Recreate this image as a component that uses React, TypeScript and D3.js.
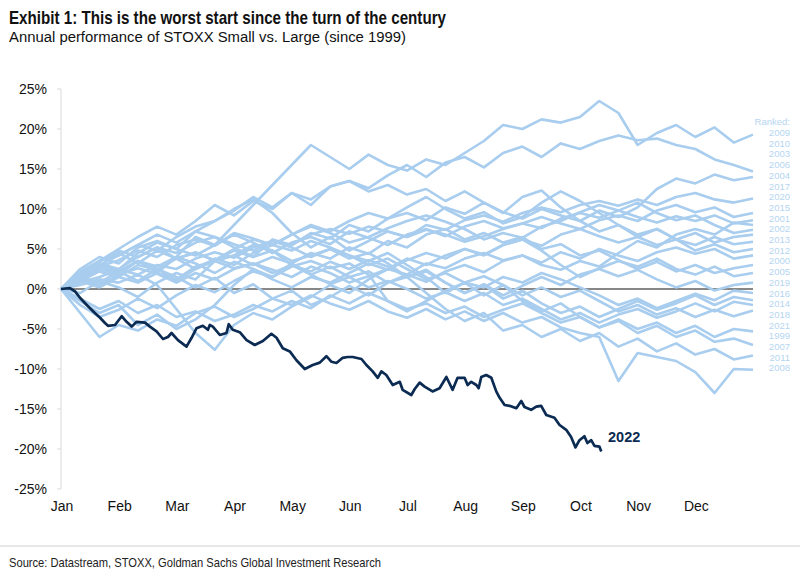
import React from "react";
import * as d3 from "d3";

const MONTHS = ["Jan", "Feb", "Mar", "Apr", "May", "Jun", "Jul", "Aug", "Sep", "Oct", "Nov", "Dec"];
const Y_TICKS = [25, 20, 15, 10, 5, 0, -5, -10, -15, -20, -25];
const RANKED = ["2009", "2010", "2003", "2006", "2004", "2017", "2020", "2015", "2001", "2002", "2013", "2012", "2000", "2005", "2019", "2016", "2014", "2018", "2021", "1999", "2007", "2011", "2008"];

// Light series: values every 1/3 month (37 points, Jan 1 -> Dec 31), % relative performance
const S2009 = [0, 1.2, 2.5, 1.8, 3.5, 2.0, 4.0, 6.5, 5.5, 8.0, 10.5, 13.0, 15.5, 18.0, 16.5, 15.0, 16.8, 15.5, 14.8, 16.2, 15.5, 17.0, 18.5, 20.5, 20.0, 21.2, 20.8, 21.5, 23.5, 22.0, 18.0, 19.5, 20.5, 19.0, 20.2, 18.3, 19.3];
const S2010 = [0, 1.5, 3.2, 2.4, 4.5, 5.8, 5.0, 7.2, 8.5, 9.8, 11.5, 10.2, 12.0, 10.5, 12.8, 13.5, 12.6, 14.2, 15.5, 14.0, 15.8, 16.5, 15.2, 17.0, 17.8, 16.5, 18.2, 17.5, 18.5, 19.2, 18.6, 18.8, 18.0, 17.5, 16.2, 15.5, 14.7];
const S2003 = [0, -0.5, 1.0, 0.2, -1.0, 0.8, 2.0, 1.2, 3.5, 4.8, 4.0, 6.2, 5.5, 7.0, 6.3, 8.0, 7.2, 8.8, 9.5, 8.6, 10.2, 9.4, 10.8, 9.6, 8.8, 10.0, 9.2, 8.5, 9.8, 9.0, 10.2, 12.5, 13.8, 13.2, 14.3, 13.6, 14.0];
const S2006 = [0, 1.8, 3.5, 4.2, 5.5, 4.8, 6.5, 7.8, 8.5, 10.0, 11.2, 9.5, 7.0, 5.2, 6.5, 4.8, 6.0, 7.2, 6.5, 8.0, 7.4, 8.6, 9.2, 8.4, 9.5, 10.2, 9.6, 10.5, 11.0, 10.4, 11.2, 10.5, 11.5, 12.0, 11.2, 10.8, 11.3];
const S2004 = [0, 2.5, 4.0, 3.2, 5.2, 6.0, 5.0, 4.2, 5.5, 6.8, 5.8, 4.5, 5.8, 6.5, 5.6, 7.2, 6.4, 5.5, 6.8, 7.5, 6.6, 7.8, 8.5, 7.6, 8.2, 9.0, 8.2, 7.5, 8.6, 9.2, 8.5, 9.8, 10.5, 9.6, 10.2, 9.0, 9.5];
const S2017 = [0, 0.8, 1.5, 2.4, 1.8, 3.0, 2.5, 3.8, 4.6, 3.9, 5.2, 6.0, 5.5, 6.8, 7.5, 6.9, 7.8, 7.2, 6.5, 7.4, 6.8, 5.9, 6.6, 7.5, 8.2, 7.6, 8.8, 9.5, 8.9, 9.8, 9.0, 8.3, 9.1, 8.5, 9.2, 8.2, 8.6];
const S2020 = [0, 0.5, 1.2, 0.8, 1.8, 0.5, -2.5, -5.5, -7.6, -4.5, -3.0, -3.8, -2.2, -1.0, 0.5, -0.5, 1.2, 2.5, 1.8, 3.2, 2.6, 3.8, 4.5, 3.6, 4.2, 3.0, 2.4, 3.5, 2.8, 4.5, 6.0, 5.2, 6.8, 7.5, 6.8, 8.3, 8.0];
const S2015 = [0, 1.5, 2.8, 3.6, 4.8, 4.0, 5.5, 6.2, 5.4, 7.0, 6.3, 5.5, 6.8, 7.8, 7.0, 5.8, 6.5, 7.6, 8.5, 9.2, 8.4, 7.5, 6.2, 7.0, 6.4, 7.8, 8.5, 9.6, 10.5, 9.8, 10.8, 9.5, 8.6, 9.2, 8.0, 7.0, 7.4];
const S2001 = [0, 2.2, 3.5, 5.0, 6.5, 7.8, 6.8, 8.5, 10.5, 9.2, 11.0, 10.0, 12.0, 11.2, 12.8, 13.5, 12.2, 13.0, 11.8, 12.5, 11.0, 12.2, 10.8, 9.5, 11.5, 12.3, 10.2, 8.5, 7.2, 8.0, 6.5, 7.5, 6.2, 7.0, 5.8, 6.5, 6.8];
const S2002 = [0, 1.0, 2.2, 1.5, 3.0, 2.4, 3.8, 4.5, 3.6, 5.0, 6.2, 5.5, 6.8, 8.0, 7.2, 8.5, 9.5, 8.8, 10.2, 11.5, 10.0, 8.8, 9.6, 8.2, 9.0, 10.8, 12.2, 11.0, 9.5, 8.0, 6.8, 7.5, 6.2, 5.5, 6.5, 5.6, 5.9];
const S2013 = [0, 1.2, 0.5, 1.8, 2.6, 1.9, 0.8, 2.0, 1.2, 2.5, 3.2, 2.4, 1.5, 2.8, 2.0, 0.8, 1.6, 2.5, 3.8, 3.0, 4.2, 5.0, 4.3, 5.5, 6.2, 5.4, 6.8, 7.5, 6.6, 5.8, 6.5, 5.5, 6.2, 4.8, 5.6, 4.6, 5.0];
const S2012 = [0, 1.8, 3.0, 2.2, 1.0, 2.5, 1.5, 0.2, 1.4, -0.5, 0.6, -1.2, -0.2, -2.0, -1.0, 0.4, -0.8, 0.8, 1.8, 0.9, 2.2, 3.0, 2.1, 3.5, 4.2, 3.3, 4.6, 3.8, 5.0, 4.2, 3.5, 4.6, 5.2, 4.4, 5.0, 3.8, 4.2];
const S2000 = [0, -1.5, -3.0, -2.0, -4.5, -3.2, -5.0, -3.8, -2.0, 0.5, 2.5, 1.5, 3.2, 4.5, 3.8, 5.2, 4.4, 6.0, 5.2, 6.8, 7.5, 6.2, 7.0, 5.8, 6.5, 5.0, 5.6, 4.2, 4.8, 3.6, 2.5, 3.4, 2.2, 3.0, 2.0, 2.6, 3.0];
const S2005 = [0, 1.5, 0.8, 2.2, 3.5, 2.8, 4.0, 3.2, 2.0, 3.4, 2.5, 1.2, 0.2, 1.5, 0.8, 2.0, 3.2, 2.4, 3.6, 4.5, 3.8, 5.0, 4.2, 5.5, 6.2, 4.8, 3.0, 1.5, 2.6, 3.5, 2.8, 3.8, 2.5, 1.8, 2.8, 1.6, 2.0];
const S2019 = [0, 2.0, 3.5, 4.8, 4.0, 5.2, 3.8, 4.6, 3.5, 4.2, 5.5, 4.8, 3.0, 2.2, 3.4, 2.5, 3.6, 2.8, 1.5, 2.4, 0.8, -0.5, 0.6, -0.8, 0.4, 1.5, 0.5, 1.8, 2.5, 1.6, 2.4, 1.2, 0.2, 1.0, -0.2, 0.5, 0.8];
const S2016 = [0, -2.0, -3.5, -2.6, -1.2, -2.4, -0.8, 0.5, -0.4, 1.0, 2.2, 1.5, 2.8, 3.5, 2.6, 3.2, 1.8, -1.5, -2.8, -1.5, -0.2, 0.8, 0.2, 1.5, 0.8, 2.0, 1.2, 0.2, -0.8, -2.0, -1.2, -2.4, -1.5, -0.6, -1.4, -0.2, -0.5];
const S2014 = [0, 1.5, 3.0, 4.2, 5.5, 6.8, 5.8, 7.2, 6.5, 5.2, 4.0, 4.8, 3.5, 4.2, 5.0, 3.8, 4.5, 3.2, 1.5, 2.2, 0.8, -0.5, 0.5, -1.2, -0.2, -1.8, -3.0, -2.2, -3.5, -2.5, -1.5, -2.6, -1.8, -0.8, -2.0, -1.0, -1.4];
const S2018 = [0, 1.0, 0.2, 1.5, 0.8, 2.0, 1.2, 2.8, 3.5, 2.6, 3.2, 2.0, 3.0, 1.8, 0.6, 1.5, 0.2, 1.0, 0.0, -1.2, -0.4, -1.5, -0.5, -2.0, -1.2, -2.5, -3.8, -3.0, -4.2, -3.2, -2.5, -3.6, -2.8, -1.8, -2.8, -1.6, -2.0];
const S2021 = [0, 1.8, 3.2, 2.5, 4.0, 5.2, 4.5, 5.8, 6.5, 5.6, 4.8, 6.0, 5.2, 4.0, 5.0, 4.2, 3.0, 3.8, 2.5, 1.2, 2.0, 0.8, 1.6, 0.5, -0.8, 0.2, -1.0, -0.2, -1.5, -2.8, -2.0, -3.2, -2.4, -3.5, -2.6, -3.4, -2.7];
const S1999 = [0, -1.2, -2.5, -1.5, -3.0, -2.0, -3.5, -2.8, -4.0, -3.2, -2.0, -2.8, -1.5, -2.4, -0.8, -1.8, -0.5, -1.5, -2.5, -1.8, -3.0, -2.2, -3.5, -2.6, -1.8, -3.0, -4.2, -3.5, -4.8, -3.8, -5.0, -4.2, -5.5, -4.6, -6.0, -5.0, -5.3];
const S2007 = [0, 1.5, 2.8, 2.0, 3.5, 2.5, 1.0, 2.5, 3.8, 3.0, 4.5, 5.5, 4.8, 6.0, 5.2, 4.2, 3.5, 4.5, 3.0, 1.5, -0.5, 0.8, -0.8, 0.5, -1.5, -2.8, -1.8, -3.5, -4.8, -4.0, -5.5, -4.6, -6.0, -5.2, -6.6, -6.2, -7.0];
const S2011 = [0, 1.8, 3.5, 4.5, 3.2, 4.8, 3.8, 2.5, 3.5, 4.2, 3.0, 4.0, 3.2, 1.8, 2.8, 1.5, 2.2, 0.8, 1.5, -0.5, -2.5, -4.0, -3.0, -5.2, -4.5, -6.0, -5.0, -6.5, -5.5, -7.2, -6.2, -7.8, -6.8, -8.2, -7.5, -8.8, -8.3];
const S2008 = [0, -3.0, -6.0, -4.5, -5.2, -3.8, -4.6, -3.0, -2.2, -3.5, -2.5, -1.2, -2.0, -0.8, -1.8, -2.6, -1.5, -2.8, -3.6, -2.5, -3.8, -2.8, -4.0, -3.0, -4.2, -3.5, -4.8, -5.5, -6.0, -11.5, -8.0, -8.5, -9.0, -10.4, -13.0, -10.0, -10.1];

const LIGHT_SERIES = [S2009, S2010, S2003, S2006, S2004, S2017, S2020, S2015, S2001, S2002, S2013, S2012, S2000, S2005, S2019, S2016, S2014, S2018, S2021, S1999, S2007, S2011, S2008];

// 2022: [day of year, %]
const DAYS_2022 = [0, 4.7, 7.4, 10, 12.6, 15.3, 17.9, 20.6, 23.2, 24.8, 28.5, 32, 34.6, 37.3, 39.9, 44.3, 46.9, 50.4, 53.8, 56.4, 58.3, 61.7, 66.2, 68.9, 71.5, 74.8, 77.5, 78.5, 80.1, 83.8, 87.3, 88.5, 90.6, 94.3, 97.9, 102.2, 106.5, 111, 113.7, 117, 120.7, 124.2, 128.6, 132.8, 136.5, 140, 142.7, 145.3, 148.6, 151.2, 153.9, 158.5, 161.1, 164.4, 167.1, 169, 171.6, 175, 178.7, 180.2, 184.8, 186.6, 189.2, 191.8, 196, 199.7, 203.3, 206.6, 209.2, 212.9, 214.5, 216.4, 219.1, 220.3, 221.7, 224.3, 227, 229.6, 231.4, 234, 236.6, 240.2, 242.8, 244.5, 248, 250.7, 253.3, 256, 260.3, 263, 266.5, 269.1, 271.4, 273.5, 276.1, 277.7, 279.7, 281.4, 284, 285];
const VALS_2022 = [0, 0.1, -0.3, -1.1, -1.75, -2.4, -3.0, -3.6, -4.25, -4.6, -4.5, -3.4, -4.1, -4.7, -4.1, -4.2, -4.7, -5.3, -6.25, -6.0, -5.5, -6.4, -7.2, -6.1, -4.9, -4.6, -5.1, -4.5, -4.7, -5.75, -5.5, -4.4, -5.1, -5.4, -6.4, -7.0, -6.5, -5.6, -6.1, -7.4, -7.8, -8.9, -10.0, -9.5, -9.2, -8.4, -9.1, -9.25, -8.6, -8.5, -8.5, -8.75, -9.5, -10.3, -11.1, -10.3, -10.75, -12.0, -11.6, -12.6, -13.25, -12.5, -11.7, -12.2, -12.8, -12.4, -11.0, -12.6, -11.1, -11.1, -12.0, -11.6, -12.0, -12.4, -11.0, -10.75, -11.1, -12.8, -13.6, -14.5, -14.6, -14.9, -14.0, -14.75, -15.1, -14.7, -14.6, -15.75, -16.1, -17.0, -17.6, -18.5, -19.8, -18.9, -18.4, -19.25, -18.9, -19.6, -19.7, -20.3];

const LIGHT = "#a8cdee";
const DARK = "#0b2b52";
const FONT = "'Liberation Sans', Arial, Helvetica, sans-serif";

export default function App() {
  const W = 800, H = 578;
  const x = d3.scaleLinear().domain([0, 12]).range([61, 753]);
  const y = d3.scaleLinear().domain([-25, 25]).range([489, 89]);

  const lightLine = d3.line<number>().x((_, i) => x(i / 3)).y((v) => y(v)).curve(d3.curveLinear);
  const darkLine = d3.line<number>().x((_, i) => x(DAYS_2022[i] / 30.42)).y((v) => y(v));

  return (
    <svg width={W} height={H} style={{ position: "absolute", left: 0, top: 0, background: "#fff" }} fontFamily={FONT}>
      <rect x={0} y={0} width={W} height={H} fill="#fff" />
      <text x={9} y={24} fontSize={19} fontWeight="bold" fill="#111" textLength={437} lengthAdjust="spacingAndGlyphs">
        Exhibit 1: This is the worst start since the turn of the century
      </text>
      <text x={9} y={41.5} fontSize={15.5} fill="#111" textLength={397} lengthAdjust="spacingAndGlyphs">
        Annual performance of STOXX Small vs. Large (since 1999)
      </text>

      {/* y axis */}
      <line x1={61} x2={61} y1={y(25)} y2={y(-25)} stroke="#d9d9d9" strokeWidth={1} />
      {Y_TICKS.map((t) => (
        <g key={t}>
          <line x1={57} x2={61} y1={y(t)} y2={y(t)} stroke="#d9d9d9" strokeWidth={1} />
          <text x={47} y={y(t)} dy="0.35em" textAnchor="end" fontSize={14} fill="#111">
            {t}%
          </text>
        </g>
      ))}

      {/* zero line */}
      <line x1={x(0)} x2={x(12)} y1={y(0)} y2={y(0)} stroke="#111" strokeWidth={1} />

      {/* month labels */}
      {MONTHS.map((m, i) => (
        <text key={m} x={x(i) + 1} y={511} textAnchor="middle" fontSize={14} fill="#111">
          {m}
        </text>
      ))}

      {/* light lines */}
      {LIGHT_SERIES.map((s, k) => (
        <path key={k} d={lightLine(s) || ""} fill="none" stroke={LIGHT} strokeWidth={2.6} strokeLinejoin="round" />
      ))}

      {/* 2022 */}
      <path d={darkLine(VALS_2022) || ""} fill="none" stroke={DARK} strokeWidth={2.7} strokeLinejoin="round" />
      <text x={608} y={442} fontSize={14.5} fontWeight="bold" fill={DARK}>2022</text>

      {/* ranked legend */}
      <text x={790} y={121.7} dy="0.35em" textAnchor="end" fontSize={9.5} fill="#b5d5f1">Ranked:</text>
      {RANKED.map((r, i) => (
        <text key={r} x={790} y={132.7 + i * 10.7} dy="0.35em" textAnchor="end" fontSize={9.5} fill="#b5d5f1">
          {r}
        </text>
      ))}

      {/* footer */}
      <line x1={0} x2={W} y1={546} y2={546} stroke="#cfcfcf" strokeWidth={1} />
      <text x={9} y={567} fontSize={13} fill="#222" textLength={372} lengthAdjust="spacingAndGlyphs">
        Source: Datastream, STOXX, Goldman Sachs Global Investment Research
      </text>
    </svg>
  );
}
